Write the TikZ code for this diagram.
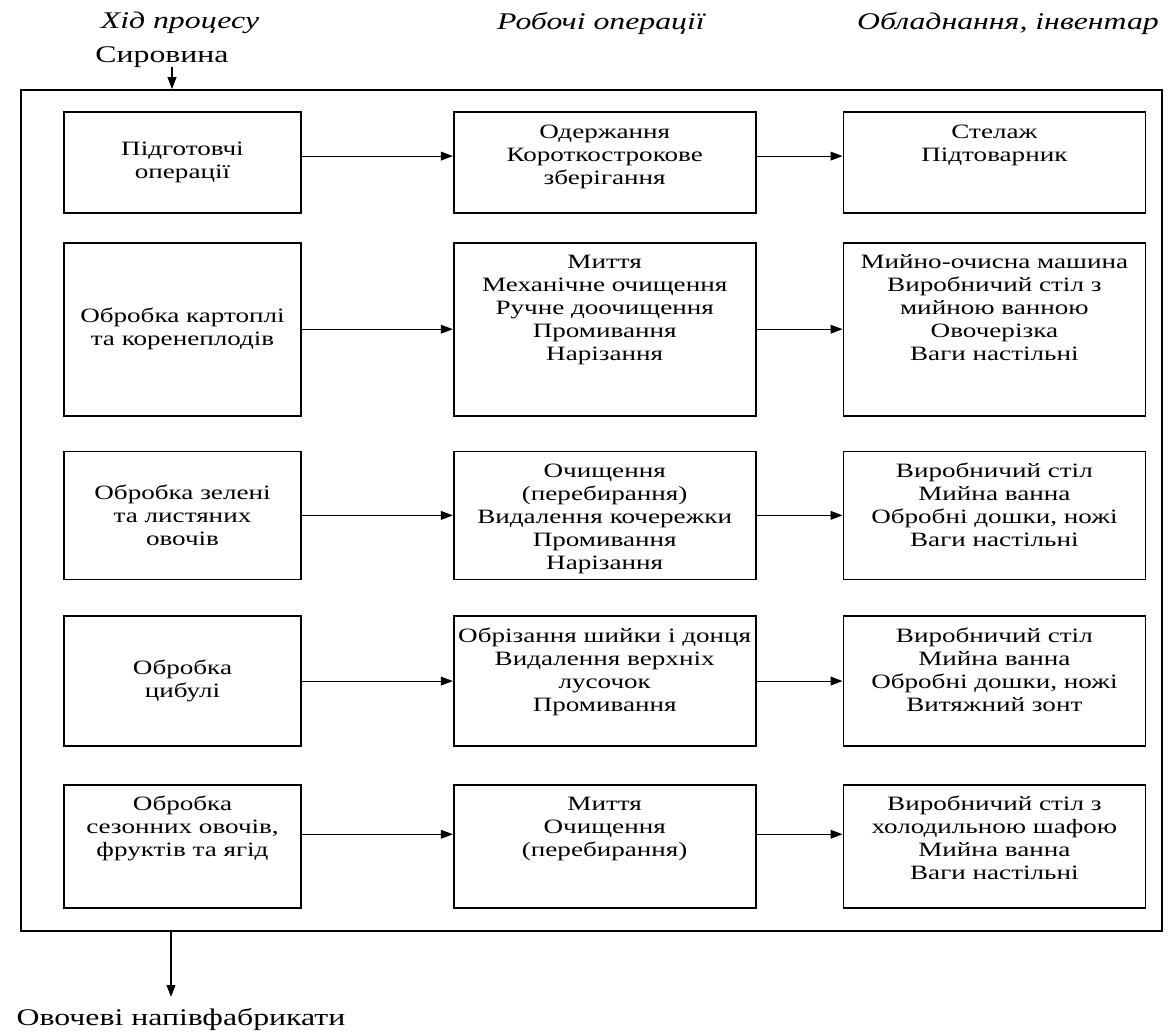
\documentclass[tikz,border=0pt]{standalone}
\usepackage{fontspec}
\setmainfont{Liberation Serif}[FakeStretch=1.33]
\usetikzlibrary{positioning,arrows.meta}

\begin{document}
\begin{tikzpicture}[
    % Boxes of the chart
    box/.style={rectangle, draw=black, line width=1.2pt, inner sep=0pt,
                align=center, font=\fontsize{14.5}{16.4}\selectfont},
    stage/.style={box, text width=5.925cm},
    oper/.style={box, text width=7.55cm},
    % text hanging from the top edge
    hang/.style={text height=0.65cm, text depth=#1},
    % Headings and flow texts
    head/.style={font=\fontsize{17}{20}\selectfont\itshape},
    flowtext/.style={font=\fontsize{17}{20}\selectfont},
    % Arrows
    arrow/.style={-{Triangle[length=0.3cm,width=0.22cm]}, line width=0.8pt},
    node distance=0.7cm and 3.775cm
]
\useasboundingbox (0,0) rectangle (29.2,-25.8);

% Column headings
\node[head] (hstage) at (4.5,-0.575) {Хід процесу};
\node[head] (hoper) at (15.025,-0.575) {Робочі операції};
\node[head] (hequip) at (25.2,-0.575) {Обладнання, інвентар};

% Input and frame
\node[flowtext] (raw) at (4.05,-1.425) {Сировина};
\node[draw, line width=1.2pt, minimum width=28.525cm, minimum height=21.025cm,
      inner sep=0pt] (frame) at (14.7875,-12.7625) {};

% Row 1
\node[stage, minimum height=2.525cm] (prep) at (4.5625,-4.0625) {Підготовчі\\операції};
\node[oper, hang=1.875cm, right=3.775cm of prep] (prepop) {Одержання\\Короткострокове\\зберігання};
\node[oper, hang=1.875cm, right=2.15cm of prepop] (prepeq) {Стелаж\\Підтоварник};

% Row 2
\node[stage, minimum height=4.325cm, below=0.7cm of prep] (potato) {Обробка картоплі\\та коренеплодів};
\node[oper, hang=3.675cm, right=3.775cm of potato] (potatoop) {Миття\\Механічне очищення\\Ручне доочищення\\Промивання\\Нарізання};
\node[oper, hang=3.675cm, right=2.15cm of potatoop] (potatoeq) {Мийно-очисна машина\\Виробничий стіл з\\мийною ванною\\Овочерізка\\Ваги настільні};

% Row 3
\node[stage, minimum height=3.2cm, below=0.85cm of potato] (greens) {Обробка зелені\\та листяних\\овочів};
\node[oper, hang=2.55cm, right=3.775cm of greens] (greensop) {Очищення\\(перебирання)\\Видалення кочережки\\Промивання\\Нарізання};
\node[oper, hang=2.55cm, right=2.15cm of greensop] (greenseq) {Виробничий стіл\\Мийна ванна\\Обробні дошки, ножі\\Ваги настільні};

% Row 4
\node[stage, minimum height=3.25cm, below=0.875cm of greens] (onion) {Обробка\\цибулі};
\node[oper, hang=2.6cm, right=3.775cm of onion] (onionop) {Обрізання шийки і донця\\Видалення верхніх\\лусочок\\Промивання};
\node[oper, hang=2.6cm, right=2.15cm of onionop] (onioneq) {Виробничий стіл\\Мийна ванна\\Обробні дошки, ножі\\Витяжний зонт};

% Row 5
\node[stage, hang=2.425cm, below=0.925cm of onion] (fruit) {Обробка\\сезонних овочів,\\фруктів та ягід};
\node[oper, hang=2.425cm, right=3.775cm of fruit] (fruitop) {Миття\\Очищення\\(перебирання)};
\node[oper, hang=2.425cm, right=2.15cm of fruitop] (fruiteq) {Виробничий стіл з\\холодильною шафою\\Мийна ванна\\Ваги настільні};

% Output
\node[flowtext, anchor=base] (product) at (4.525,-25.625) {Овочеві напівфабрикати};
\coordinate (inpt) at (4.3,-1.675);
\coordinate (outpt) at (4.275,-24.925);

% Arrows along the rows
\draw[arrow] ([yshift=0.16cm]prep.east) -- ([yshift=0.16cm]prepop.west);
\draw[arrow] ([yshift=0.16cm]prepop.east) -- ([yshift=0.16cm]prepeq.west);
\draw[arrow] (potato) -- (potatoop);
\draw[arrow] (potatoop) -- (potatoeq);
\draw[arrow] (greens) -- (greensop);
\draw[arrow] (greensop) -- (greenseq);
\draw[arrow] (onion) -- (onionop);
\draw[arrow] (onionop) -- (onioneq);
\draw[arrow] ([yshift=0.3cm]fruit.east) -- ([yshift=0.3cm]fruitop.west);
\draw[arrow] ([yshift=0.3cm]fruitop.east) -- ([yshift=0.3cm]fruiteq.west);

% In and out of the frame
\draw[arrow] (inpt) -- (inpt |- frame.north);
\draw[arrow] (outpt |- frame.south) -- (outpt);

\end{tikzpicture}
\end{document}
